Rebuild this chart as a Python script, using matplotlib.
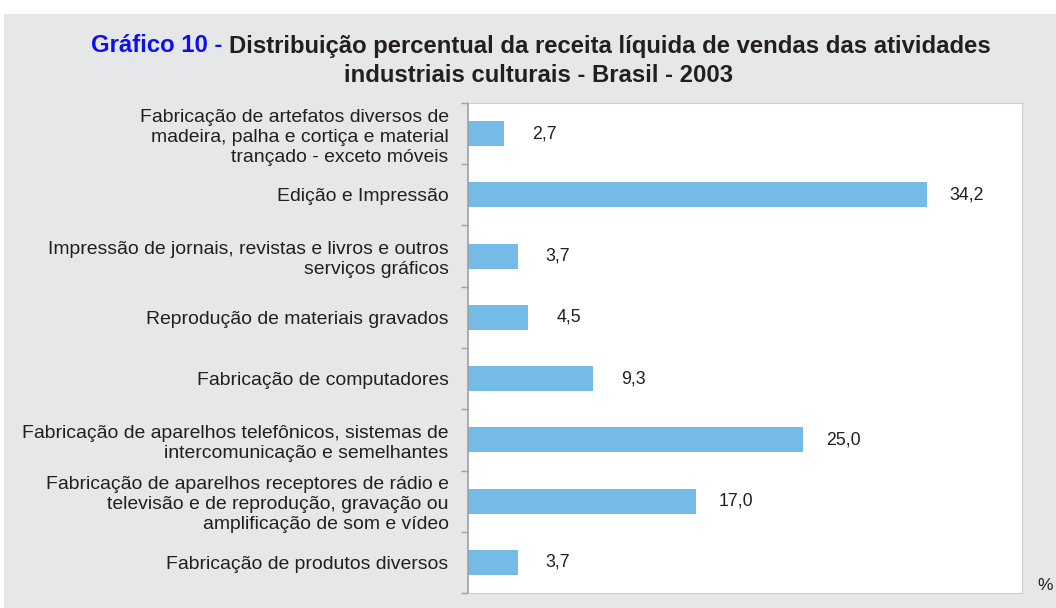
import matplotlib
matplotlib.use("Agg")
import matplotlib.pyplot as plt
from matplotlib.patches import Rectangle

categories = [
    "Fabricação de artefatos diversos de\nmadeira, palha e cortiça e material\ntrançado - exceto móveis",
    "Edição e Impressão",
    "Impressão de jornais, revistas e livros e outros\nserviços gráficos",
    "Reprodução de materiais gravados",
    "Fabricação de computadores",
    "Fabricação de aparelhos telefônicos, sistemas de\nintercomunicação e semelhantes",
    "Fabricação de aparelhos receptores de rádio e\ntelevisão e de reprodução, gravação ou\namplificação de som e vídeo",
    "Fabricação de produtos diversos",
]
values = [2.7, 34.2, 3.7, 4.5, 9.3, 25.0, 17.0, 3.7]
value_labels = ["2,7", "34,2", "3,7", "4,5", "9,3", "25,0", "17,0", "3,7"]

W, H = 1056, 608
FAM = ["Liberation Sans", "DejaVu Sans"]
fig = plt.figure(figsize=(W / 100, H / 100), dpi=100)
fig.patch.set_facecolor("white")
fig.add_artist(Rectangle((4 / W, 0), 1 - 4 / W, 1 - 14 / H, transform=fig.transFigure,
                         facecolor="#e6e7e8", edgecolor="none", zorder=-10))
fig.canvas.draw()
r = fig.canvas.get_renderer()

def fit_size(text, target_px, weight="normal", base=12.0):
    t = fig.text(0, 0, text, fontsize=base, fontweight=weight, family=FAM)
    w = t.get_window_extent(r).width
    t.remove()
    return base * target_px / w

def line_gap(fs, ls):
    t = fig.text(0, 0, "A\nA", fontsize=fs, family=FAM, linespacing=ls)
    h2 = t.get_window_extent(r).height
    t.remove()
    t = fig.text(0, 0, "A", fontsize=fs, family=FAM)
    h1 = t.get_window_extent(r).height
    t.remove()
    return h2 - h1

lab_fs = fit_size("Fabricação de aparelhos telefônicos, sistemas de", 428)
title_fs = fit_size("Gráfico 10 - Distribuição percentual da receita líquida de vendas das atividades",
                    894, weight="bold")
g = line_gap(lab_fs, 1.0)
lab_ls = 21.0 / g

ax = fig.add_axes([468 / W, 1 - 593 / H, (1022 - 468) / W, (593 - 103) / H])
ax.set_facecolor("white")
n = len(values)
ypos = list(range(n))
ax.barh(ypos, values, height=0.41, color="#74bbe7", zorder=2)
ax.set_xlim(0, 41.3)
ax.set_ylim(n - 0.5, -0.5)

for y, v, lab in zip(ypos, values, value_labels):
    ax.annotate(lab, (v, y), xytext=(29, 0), textcoords="offset points",
                ha="center", va="center", fontsize=12.8, color="#231f20", family=FAM)

ax.set_xticks([])
ax.set_yticks(ypos)
ax.set_yticklabels(categories, fontsize=lab_fs, color="#231f20", family=FAM,
                   linespacing=lab_ls)
ax.tick_params(axis="y", which="major", length=0, pad=14)
ax.set_yticks([i - 0.5 for i in range(n + 1)], minor=True)
ax.tick_params(axis="y", which="minor", length=5, color="#a0a0a0", width=1)

for s in ["top", "right", "bottom"]:
    ax.spines[s].set_color("#cfcfcf")
ax.spines["left"].set_color("#a0a0a0")
ax.spines["left"].set_linewidth(1.2)

fig.text(1045 / W, 1 - 585 / H, "%", ha="center", va="center", fontsize=12.5,
         color="#231f20", family=FAM)

# Title
t1a = fig.text(0, 0, "Gráfico 10 - ", fontsize=title_fs, fontweight="bold", color="#0d10ee", family=FAM)
t1b = fig.text(0, 0, "Distribuição percentual da receita líquida de vendas das atividades",
               fontsize=title_fs, fontweight="bold", color="#231f20", family=FAM)
wa = t1a.get_window_extent(r).width
x0 = 91
y1 = 1 - 46 / H
t1a.set_position((x0 / W, y1)); t1a.set_va("center")
t1b.set_position(((x0 + wa) / W, y1)); t1b.set_va("center")
fig.text(538 / W, 1 - 76 / H, "industriais culturais - Brasil - 2003", ha="center", va="center",
         fontsize=title_fs, fontweight="bold", color="#231f20", family=FAM)

fig.savefig("out.png", dpi=100, facecolor=fig.get_facecolor())
